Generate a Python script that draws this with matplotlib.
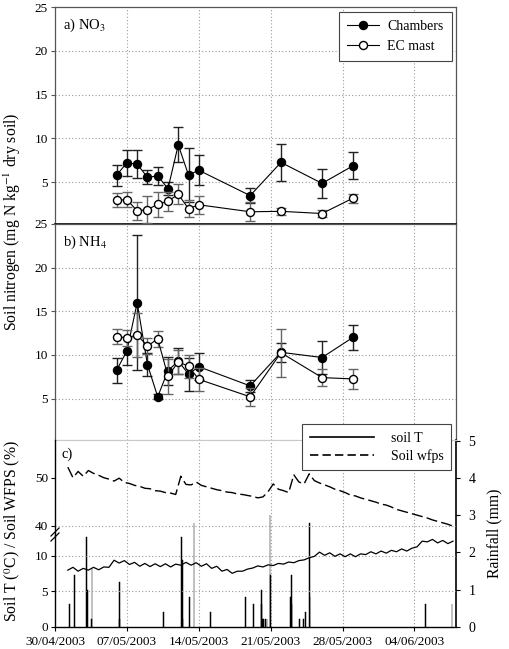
import matplotlib
matplotlib.use('Agg')
import matplotlib.pyplot as plt
from matplotlib.lines import Line2D
import pandas as pd

plt.rcParams['font.family'] = ['Liberation Serif', 'DejaVu Serif']
plt.rcParams['mathtext.fontset'] = 'stix'
plt.rcParams['font.size'] = 9.5

# ---------------- data ----------------
sample_dates = ['2003-05-06', '2003-05-07', '2003-05-08', '2003-05-09', '2003-05-10',
                '2003-05-11', '2003-05-12', '2003-05-13', '2003-05-14', '2003-05-19',
                '2003-05-22', '2003-05-26', '2003-05-29']
no3_chambers = [5.8, 7.2, 7.05, 5.55, 5.7, 4.25, 9.25, 5.8, 6.35, 3.45, 7.25, 4.85, 6.85]
no3_chambers_err = [1.2, 1.5, 1.6, 0.8, 1.05, 0.7, 2.0, 3.1, 1.7, 0.9, 2.1, 1.7, 1.55]
no3_ec = [2.9, 3.0, 1.7, 1.85, 2.45, 2.8, 3.6, 1.95, 2.4, 1.6, 1.65, 1.4, 3.15]
no3_ec_err = [0.8, 0.9, 1.0, 1.5, 1.4, 1.1, 1.15, 1.0, 1.0, 1.1, 0.4, 0.4, 0.5]

nh4_chambers = [8.25, 10.45, 16.0, 8.9, 5.2, 8.2, 9.3, 7.8, 8.65, 6.45, 10.3, 9.7, 12.0]
nh4_chambers_err = [1.45, 1.6, 7.7, 1.3, 0.3, 1.6, 1.5, 1.9, 1.55, 0.65, 1.1, 1.9, 1.4]
nh4_ec = [12.1, 11.95, 12.3, 11.0, 11.85, 7.55, 9.2, 8.7, 7.2, 5.2, 10.25, 7.4, 7.25]
nh4_ec_err = [0.9, 0.95, 2.5, 0.9, 0.9, 2.0, 1.4, 1.3, 1.35, 1.0, 2.75, 0.95, 1.15]

soil_start = '2003-05-01 06:00'   # 12-hourly readings
soil_t = [8.0, 8.4, 7.85, 8.25, 8.0, 8.4, 8.05, 8.45, 8.4, 9.4,
          9.0, 9.35, 8.8, 9.1, 8.55, 8.95, 8.5, 8.9, 8.5, 8.9,
          8.45, 8.85, 8.7, 9.1, 8.7, 9.05, 8.55, 8.9, 8.25, 8.55,
          7.85, 8.1, 7.55, 7.85, 7.85, 8.15, 8.3, 8.6, 8.45, 8.75,
          8.65, 8.95, 8.85, 9.15, 9.05, 9.35, 9.45, 9.75, 9.95, 10.55,
          10.1, 10.45, 9.95, 10.3, 9.9, 10.3, 9.9, 10.3, 10.2, 10.6,
          10.3, 10.7, 10.4, 10.8, 10.6, 11.0, 10.7, 11.1, 11.3, 12.1,
          12.0, 12.35, 11.85, 12.2, 11.75, 12.1]
soil_wfps = [52.2, 50.0, 51.3, 50.3, 51.5, 50.9, 50.5, 50.0, 49.7, 49.3,
             49.9, 49.0, 48.8, 48.4, 48.2, 47.8, 47.7, 47.3, 47.2, 46.9,
             46.8, 46.5, 50.3, 48.6, 48.5, 49.1, 48.4, 48.1, 47.8, 47.5,
             47.3, 47.0, 46.9, 46.6, 46.5, 46.3, 46.1, 45.8, 46.0, 47.1,
             48.7, 47.6, 47.3, 46.9, 50.6, 49.1, 48.7, 50.8, 49.4, 48.9,
             48.5, 48.1, 47.6, 47.3, 46.9, 46.4, 46.2, 45.8, 45.5, 45.2,
             44.9, 44.5, 44.3, 43.9, 43.4, 43.1, 42.8, 42.5, 42.2, 41.9,
             41.6, 41.2, 40.9, 40.6, 40.3, 39.9]

rain_times = ['2003-05-01 09:00', '2003-05-01 21:00', '2003-05-03 02:30', '2003-05-03 03:00',
              '2003-05-03 13:00', '2003-05-03 14:30', '2003-05-06 07:00', '2003-05-06 07:30',
              '2003-05-10 14:00', '2003-05-12 08:30', '2003-05-12 09:00', '2003-05-12 09:30',
              '2003-05-13 01:30', '2003-05-13 13:00', '2003-05-15 02:30', '2003-05-18 13:00',
              '2003-05-19 08:00', '2003-05-20 02:00', '2003-05-20 03:00', '2003-05-20 05:00',
              '2003-05-20 07:00', '2003-05-20 11:00', '2003-05-20 15:30', '2003-05-20 22:30',
              '2003-05-20 23:00', '2003-05-22 23:00', '2003-05-23 00:00', '2003-05-23 01:00',
              '2003-05-23 19:00', '2003-05-24 05:00', '2003-05-24 08:30', '2003-05-24 19:00',
              '2003-05-24 20:00', '2003-06-05 01:00', '2003-06-07 15:30']
rain_mm = [0.6, 1.4, 2.4, 1.0,
           0.2, 1.55, 1.2, 0.2,
           0.4, 2.4, 1.8, 0.2,
           0.8, 2.8, 0.4, 0.8,
           0.6, 1.0, 0.6, 0.2,
           0.2, 0.2, 0.2, 3.0,
           1.4, 0.8, 1.4, 0.6,
           0.2, 0.2, 0.4, 2.8,
           0.8, 0.6, 0.6]

date_ticks = ['2003-04-30', '2003-05-07', '2003-05-14', '2003-05-21', '2003-05-28', '2003-06-04']
date_tick_labels = ['30/04/2003', '07/05/2003', '14/05/2003', '21/05/2003', '28/05/2003', '04/06/2003']
x_start, x_end = '2003-04-30 00:00', '2003-06-08 01:00'

# ---------------- layout ----------------
W, H = 509, 649
fig = plt.figure(figsize=(W / 100, H / 100), dpi=100)


def rect(x0, y0, x1, y1):
    return [x0 / W, 1 - y1 / H, (x1 - x0) / W, (y1 - y0) / H]


L, R = 55, 456
sd = pd.to_datetime(sample_dates)
dt = pd.to_datetime(date_ticks)
xlim = (pd.Timestamp(x_start), pd.Timestamp(x_end))
GRID = dict(color='#9a9a9a', linestyle=(0, (1, 2)), linewidth=0.8)
SP = '#555555'


def nitrogen_panel(ax, ch, ch_e, ec, ec_e, label, ylim):
    ax.set_xlim(*xlim)
    ax.set_ylim(*ylim)
    ax.set_yticks([5, 10, 15, 20, 25])
    ax.set_xticks(dt)
    ax.tick_params(axis='x', length=0, labelbottom=False)
    ax.tick_params(axis='y', direction='out', length=3, width=0.8, color=SP, pad=2)
    for v in dt[1:]:
        ax.axvline(v, zorder=0, **GRID)
    for v in [5, 10, 15, 20]:
        ax.axhline(v, zorder=0, **GRID)
    ax.errorbar(sd, ch, yerr=ch_e, fmt='-o', color='k', mfc='k', mec='k', ms=5.8,
                lw=0.8, elinewidth=1.0, capsize=3.5, capthick=1.0, ecolor='#222222', zorder=3)
    ax.errorbar(sd, ec, yerr=ec_e, fmt='-o', color='k', mfc='white', mec='k', ms=5.8,
                lw=0.8, elinewidth=1.0, capsize=3.5, capthick=1.0, ecolor='#666666', zorder=4)
    ax.text(0.02, 0.915, label, transform=ax.transAxes, fontsize=10.5, va='center')
    for s in ['left', 'right', 'top']:
        ax.spines[s].set_color(SP)
        ax.spines[s].set_linewidth(0.9)


ax_a = fig.add_axes(rect(L, 7.3, R, 224))
nitrogen_panel(ax_a, no3_chambers, no3_chambers_err, no3_ec, no3_ec_err,
               r'a) NO$_3$', (0.2, 25))
ax_a.spines['bottom'].set_color('k')
ax_a.spines['bottom'].set_linewidth(1.2)
h1 = Line2D([], [], color='k', marker='o', mfc='k', mec='k', ms=5.8, lw=0.8)
h2 = Line2D([], [], color='k', marker='o', mfc='white', mec='k', ms=5.8, lw=0.8)
leg = ax_a.legend([h1, h2], ['Chambers', 'EC mast'], loc='upper right',
                  bbox_to_anchor=(452 / W, 1 - 12 / H), bbox_transform=fig.transFigure,
                  fancybox=False, framealpha=1, edgecolor='#444444', fontsize=10,
                  handlelength=2.3, borderpad=0.6, labelspacing=0.45, handletextpad=0.6,
                  borderaxespad=0)
leg.get_frame().set_linewidth(0.8)

ax_b = fig.add_axes(rect(L, 224, R, 440))
nitrogen_panel(ax_b, nh4_chambers, nh4_chambers_err, nh4_ec, nh4_ec_err,
               r'b) NH$_4$', (0.25, 25))
ax_b.spines['bottom'].set_color('#c8c8c8')
ax_b.spines['bottom'].set_linewidth(0.8)

fig.text(12 / W, 1 - 221.5 / H, r'Soil nitrogen (mg N kg$^{-1}$ dry soil)', rotation=90,
         ha='center', va='center', fontsize=11.3)

# ---------------- panel c ----------------
BRK = 535
ax_r = fig.add_axes(rect(L, 440, R, 626.7))
ax_r.set_xlim(*xlim)
ax_r.set_ylim(0, 5.02)
ax_r.bar(pd.to_datetime(rain_times), rain_mm, width=0.08, color='k', edgecolor='k',
         linewidth=0.35, zorder=2)
ax_r.yaxis.tick_right()
ax_r.yaxis.set_label_position('right')
ax_r.set_yticks([0, 1, 2, 3, 4, 5])
ax_r.tick_params(axis='y', direction='out', length=3, width=0.8, pad=6, labelsize=10)
ax_r.tick_params(axis='x', length=0, labelbottom=False)
ax_r.set_xticks(dt)
for s in ['left', 'bottom']:
    ax_r.spines[s].set_visible(False)
ax_r.spines['top'].set_color('#c8c8c8')
ax_r.spines['top'].set_linewidth(0.8)
ax_r.spines['right'].set_linewidth(1.2)
ax_r.set_ylabel('Rainfall (mm)', fontsize=11.3, labelpad=8)
for v in dt[1:]:
    ax_r.axvline(v, zorder=0, **GRID)

soil_times = pd.date_range(soil_start, periods=len(soil_t), freq='12h')

ax_lo = fig.add_axes(rect(L, BRK, R, 626.7))
ax_lo.patch.set_alpha(0)
ax_lo.set_xlim(*xlim)
ax_lo.set_ylim(0, (626.7 - BRK) / 7.07)
ax_lo.plot(soil_times, soil_t, color='k', lw=0.9, zorder=3)
ax_lo.set_yticks([0, 5, 10])
for v in [5, 10]:
    ax_lo.axhline(v, zorder=0, **GRID)
ax_lo.set_xticks(dt)
ax_lo.set_xticklabels(date_tick_labels)
ax_lo.tick_params(axis='x', direction='out', length=3, width=0.8, pad=4)
ax_lo.tick_params(axis='y', direction='out', length=3, width=0.8, pad=2)
for s in ['top', 'right']:
    ax_lo.spines[s].set_visible(False)
ax_lo.spines['bottom'].set_linewidth(1.0)
ax_lo.spines['left'].set_linewidth(1.0)

ax_hi = fig.add_axes(rect(L, 440, R, BRK))
ax_hi.patch.set_alpha(0)
ax_hi.set_xlim(*xlim)
ax_hi.set_ylim(40 - (BRK - 525.7) / 4.8, 50 + (477.7 - 440) / 4.8)
ax_hi.plot(soil_times, soil_wfps, color='k', lw=1.0, linestyle=(0, (8, 3)), zorder=3)
ax_hi.set_yticks([40, 50])
ax_hi.axhline(40, zorder=0, **GRID)
ax_hi.set_xticks([])
ax_hi.tick_params(axis='y', direction='out', length=3, width=0.8, pad=2)
for s in ['top', 'right', 'bottom']:
    ax_hi.spines[s].set_visible(False)
ax_hi.spines['left'].set_linewidth(1.0)
ax_hi.text(0.015, 0.85, 'c)', transform=ax_hi.transAxes, fontsize=10.5, va='center')

# axis break marks
for yb in (BRK - 3, BRK + 2):
    fig.add_artist(Line2D([(L - 4) / W, (L + 4) / W], [1 - (yb + 4) / H, 1 - (yb - 4) / H],
                          color='k', lw=0.9))

hT = Line2D([], [], color='k', lw=1.2)
hW = Line2D([], [], color='k', lw=1.2, linestyle=(0, (5, 2.5)))
leg2 = ax_hi.legend([hT, hW], ['soil T', 'Soil wfps'], loc='upper right',
                    bbox_to_anchor=(451 / W, 1 - 424 / H), bbox_transform=fig.transFigure,
                    fancybox=False, framealpha=1, edgecolor='#444444', fontsize=10,
                    handlelength=4.6, borderpad=0.55, labelspacing=0.3, handletextpad=1.2,
                    borderaxespad=0)
leg2.get_frame().set_linewidth(0.8)
leg2.set_zorder(10)

fig.text(12.5 / W, 1 - 531 / H, r'Soil T ($^0$C) / Soil WFPS (%)', rotation=90,
         ha='center', va='center', fontsize=11.3)

fig.savefig('out.png', dpi=100)
